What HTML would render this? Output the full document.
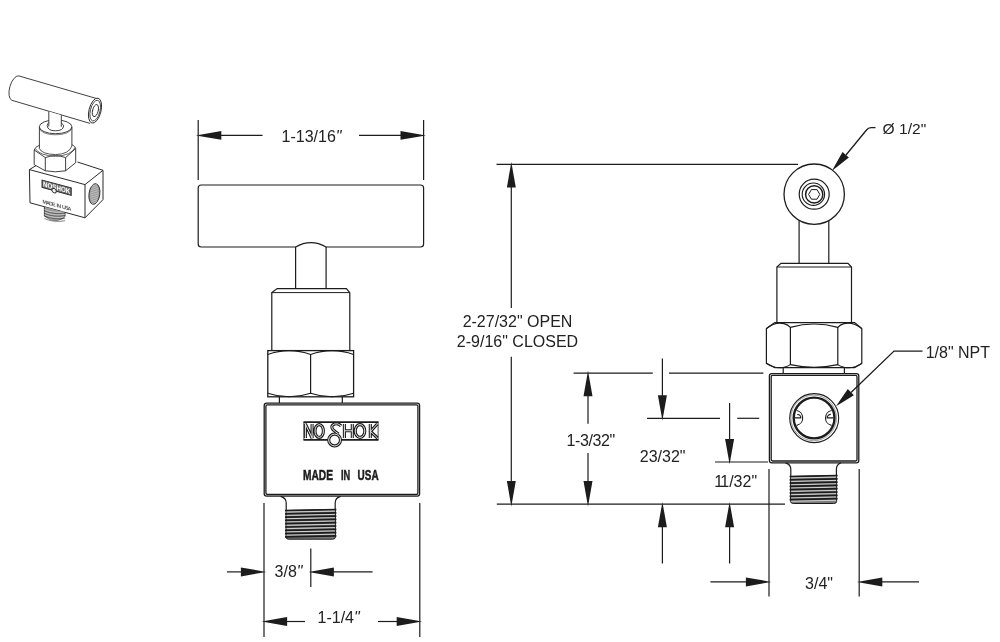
<!DOCTYPE html>
<html><head><meta charset="utf-8"><title>Needle valve dimensions</title>
<style>
html,body{margin:0;padding:0;background:#fff;}
body{width:1000px;height:642px;overflow:hidden;font-family:"Liberation Sans",sans-serif;}
svg{display:block;will-change:transform;}
svg text{font-family:"Liberation Sans",sans-serif;}
</style></head><body>
<svg width="1000" height="642" viewBox="0 0 1000 642">
<rect width="1000" height="642" fill="#fff"/>
<g id="front">
<line x1="198.2" y1="120" x2="198.2" y2="180" stroke="#1c1c1c" stroke-width="1.2" />
<line x1="423.6" y1="120" x2="423.6" y2="180" stroke="#1c1c1c" stroke-width="1.2" />
<line x1="220" y1="135.4" x2="262.5" y2="135.4" stroke="#1c1c1c" stroke-width="1.2" />
<polygon points="195.9,135.4 221.3,131.0 221.3,139.8" fill="#1c1c1c"/>
<line x1="359" y1="135.4" x2="402" y2="135.4" stroke="#1c1c1c" stroke-width="1.2" />
<polygon points="425.9,135.4 400.5,131.0 400.5,139.8" fill="#1c1c1c"/>
<text x="311.5" y="142" font-size="16" text-anchor="middle" fill="#222" >1-13/16<tspan font-style="italic">&quot;</tspan></text>
<path d="M201.2,185 H420.6 Q423.6,185 423.6,188 V244 Q423.6,247 420.6,247 H326.1 Q310.9,238.3 295.6,247 H201.2 Q198.2,247 198.2,244 V188 Q198.2,185 201.2,185 Z" stroke="#1c1c1c" stroke-width="1.2" fill="none" />
<line x1="295.6" y1="247" x2="295.6" y2="288.5" stroke="#1c1c1c" stroke-width="1.2" />
<line x1="326.1" y1="247" x2="326.1" y2="288.5" stroke="#1c1c1c" stroke-width="1.2" />
<path d="M271.8,350 V292.6 L277.2,288.6 H346.4 L349.8,292.6 V350" stroke="#1c1c1c" stroke-width="1.2" fill="none" />
<line x1="271.8" y1="292.6" x2="349.8" y2="292.6" stroke="#1c1c1c" stroke-width="1.0" />
<rect x="267.8" y="350.6" width="85.8" height="46.2" fill="none" stroke="#1c1c1c" stroke-width="1.3"/>
<path d="M310.6,354.2 V393.4" stroke="#1c1c1c" stroke-width="1.2" fill="none" />
<path d="M267.8,354.4 Q289.2,346.8 310.6,354.4 Q332.1,346.8 353.6,354.4" stroke="#1c1c1c" stroke-width="1.1" fill="none" />
<path d="M267.8,393.2 Q289.2,400.4 310.6,393.2 Q332.1,400.4 353.6,393.2" stroke="#1c1c1c" stroke-width="1.1" fill="none" />
<path d="M279.4,396.8 V403 M342.3,396.8 V403" stroke="#1c1c1c" stroke-width="1.2" fill="none" />
<rect x="264.2" y="403.2" width="155.4" height="93" rx="2.4" fill="none" stroke="#1c1c1c" stroke-width="1.3"/>
<rect x="265.9" y="404.9" width="152" height="89.6" rx="1.4" fill="none" stroke="#1c1c1c" stroke-width="1.3"/>
<g transform="translate(303.5,421.4) scale(1.0)" >
<path d="M0,0.7 H75 M0,18.5 H24.6 M37.6,18.5 H75" stroke="#1c1c1c" stroke-width="1.9" fill="none"/>
<path d="M0.4,0.7 V18.5 M74.6,0.7 V18.5" stroke="#1c1c1c" stroke-width="0.8" fill="none"/>
<path d="M1.9,16.6 V2.6 L8.6,16.6 V2.6 M19.9,9.6 a4.2,6.4 0 1 0 -8.4,0 a4.2,6.4 0 1 0 8.4,0 M37.6,4.4 Q34.6,1.4 30.8,2.6 Q26.6,4.6 29.4,8.2 Q32,10.4 35,12.6 M37,18.6 a5.9,5.9 0 1 0 -11.8,0 a5.9,5.9 0 1 0 11.8,0 M40.9,2.6 V16.6 M40.9,9.4 H48.8 M48.8,2.6 V16.6 M61.3,9.6 a4.8,6.4 0 1 0 -9.6,0 a4.8,6.4 0 1 0 9.6,0 M66.8,2.6 V16.6 M73.8,2.6 L67,10 L74,16.6" stroke="#1c1c1c" stroke-width="3.1" fill="none" stroke-linejoin="miter"/>
<path d="M1.9,16.6 V2.6 L8.6,16.6 V2.6 M19.9,9.6 a4.2,6.4 0 1 0 -8.4,0 a4.2,6.4 0 1 0 8.4,0 M37.6,4.4 Q34.6,1.4 30.8,2.6 Q26.6,4.6 29.4,8.2 Q32,10.4 35,12.6 M37,18.6 a5.9,5.9 0 1 0 -11.8,0 a5.9,5.9 0 1 0 11.8,0 M40.9,2.6 V16.6 M40.9,9.4 H48.8 M48.8,2.6 V16.6 M61.3,9.6 a4.8,6.4 0 1 0 -9.6,0 a4.8,6.4 0 1 0 9.6,0 M66.8,2.6 V16.6 M73.8,2.6 L67,10 L74,16.6" stroke="#fff" stroke-width="0.9" fill="none" stroke-linejoin="miter"/>
</g>
<g font-weight="bold" font-size="14.6" fill="#1c1c1c" stroke="#1c1c1c" stroke-width="0.5" >
<text x="303" y="479.5" textLength="30" lengthAdjust="spacingAndGlyphs">MADE</text>
<text x="341" y="479.5" textLength="9.2" lengthAdjust="spacingAndGlyphs">IN</text>
<text x="357.6" y="479.5" textLength="21" lengthAdjust="spacingAndGlyphs">USA</text>
</g>
<path d="M280.6,496.3 Q286.2,497.8 286.2,502.8 V510.5 M340.6,496.3 Q335.2,497.8 335.2,502.8 V510.5" stroke="#1c1c1c" stroke-width="1.2" fill="none" />
<path d="M286,510.5 L335.4,509.5 V537.2 Q335.4,539.2 332.4,539.2 H289 Q286,539.2 286,537.2 Z" fill="#7a7a7a" stroke="#1c1c1c" stroke-width="1"/>
<line x1="285" y1="510.5" x2="336.4" y2="509.5" stroke="#1c1c1c" stroke-width="1.7"/>
<line x1="286.5" y1="512.1" x2="334.9" y2="511.1" stroke="#e8e8e8" stroke-width="0.8"/>
<line x1="285" y1="513.8" x2="336.4" y2="512.8" stroke="#1c1c1c" stroke-width="1.7"/>
<line x1="286.5" y1="515.4" x2="334.9" y2="514.4" stroke="#e8e8e8" stroke-width="0.8"/>
<line x1="285" y1="517.1" x2="336.4" y2="516.1" stroke="#1c1c1c" stroke-width="1.7"/>
<line x1="286.5" y1="518.7" x2="334.9" y2="517.7" stroke="#e8e8e8" stroke-width="0.8"/>
<line x1="285" y1="520.4" x2="336.4" y2="519.4" stroke="#1c1c1c" stroke-width="1.7"/>
<line x1="286.5" y1="522.0" x2="334.9" y2="521.0" stroke="#e8e8e8" stroke-width="0.8"/>
<line x1="285" y1="523.7" x2="336.4" y2="522.7" stroke="#1c1c1c" stroke-width="1.7"/>
<line x1="286.5" y1="525.3" x2="334.9" y2="524.3" stroke="#e8e8e8" stroke-width="0.8"/>
<line x1="285" y1="527.0" x2="336.4" y2="526.0" stroke="#1c1c1c" stroke-width="1.7"/>
<line x1="286.5" y1="528.6" x2="334.9" y2="527.6" stroke="#e8e8e8" stroke-width="0.8"/>
<line x1="285" y1="530.3" x2="336.4" y2="529.3" stroke="#1c1c1c" stroke-width="1.7"/>
<line x1="286.5" y1="531.9" x2="334.9" y2="530.9" stroke="#e8e8e8" stroke-width="0.8"/>
<line x1="285" y1="533.6" x2="336.4" y2="532.6" stroke="#1c1c1c" stroke-width="1.7"/>
<line x1="286.5" y1="535.2" x2="334.9" y2="534.2" stroke="#e8e8e8" stroke-width="0.8"/>
<line x1="285" y1="536.9" x2="336.4" y2="535.9" stroke="#1c1c1c" stroke-width="1.7"/>
<line x1="264" y1="503" x2="264" y2="637" stroke="#1c1c1c" stroke-width="1.2" />
<line x1="419.8" y1="503" x2="419.8" y2="637" stroke="#1c1c1c" stroke-width="1.2" />
<line x1="227" y1="571.9" x2="242" y2="571.9" stroke="#1c1c1c" stroke-width="1.2" />
<polygon points="266.3,571.9 240.9,567.4 240.9,576.4" fill="#1c1c1c"/>
<line x1="310.8" y1="548.6" x2="310.8" y2="587" stroke="#1c1c1c" stroke-width="1.2" />
<polygon points="308.5,571.9 333.9,567.4 333.9,576.4" fill="#1c1c1c"/>
<line x1="333" y1="571.9" x2="372.6" y2="571.9" stroke="#1c1c1c" stroke-width="1.2" />
<text x="288.5" y="577.4" font-size="16" text-anchor="middle" fill="#222" >3/8<tspan font-style="italic">&quot;</tspan></text>
<polygon points="261.7,621.5 287.1,617.0 287.1,626.0" fill="#1c1c1c"/>
<line x1="286" y1="621.5" x2="305" y2="621.5" stroke="#1c1c1c" stroke-width="1.2" />
<polygon points="422.1,621.5 396.7,617.0 396.7,626.0" fill="#1c1c1c"/>
<line x1="378" y1="621.5" x2="398" y2="621.5" stroke="#1c1c1c" stroke-width="1.2" />
<text x="338.6" y="623.3" font-size="16" text-anchor="middle" fill="#222" >1-1/4<tspan font-style="italic">&quot;</tspan></text>
</g>
<g id="side">
<circle cx="814.2" cy="194.2" r="30.2" fill="none" stroke="#1c1c1c" stroke-width="1.3"/>
<circle cx="814.2" cy="194.2" r="15" fill="none" stroke="#1c1c1c" stroke-width="1.2"/>
<circle cx="813.4" cy="194.2" r="11.2" fill="none" stroke="#1c1c1c" stroke-width="1.1"/>
<circle cx="814.2" cy="194.4" r="8.6" fill="none" stroke="#1c1c1c" stroke-width="1.5"/>
<polygon points="819.8,194.4 817.0,199.2 811.4,199.2 808.6,194.4 811.4,189.6 817.0,189.6" fill="none" stroke="#1c1c1c" stroke-width="1"/>
<line x1="799.1" y1="220.6" x2="799.1" y2="263.3" stroke="#1c1c1c" stroke-width="1.2" />
<line x1="828.8" y1="220.6" x2="828.8" y2="263.3" stroke="#1c1c1c" stroke-width="1.2" />
<path d="M776.9,322.2 V267 L781,263.3 H848 L851.5,267 V322.2" stroke="#1c1c1c" stroke-width="1.2" fill="none" />
<line x1="776.9" y1="267" x2="851.5" y2="267" stroke="#1c1c1c" stroke-width="1.0" />
<path d="M766.4,328.6 L774.8,322.6 H854.6 L861.8,328.6 V363.4 L854.6,367.6 H774.8 L766.4,363.4 Z" stroke="#1c1c1c" stroke-width="1.2" fill="none" />
<path d="M790.4,327.2 V364.8 M837.8,327.2 V364.8" stroke="#1c1c1c" stroke-width="1.2" fill="none" />
<path d="M766.4,328.6 Q775,321.6 784,323.6 Q788,324.6 790.4,327.4 Q814,320.6 837.8,327.4 Q840,324.6 844,323.6 Q853,321.6 861.8,328.6" stroke="#1c1c1c" stroke-width="1.1" fill="none" />
<path d="M766.4,363.4 Q775,369.2 784,367.2 Q788,366.4 790.4,364.6 Q814,369.8 837.8,364.6 Q840,366.4 844,367.2 Q853,369.2 861.8,363.4" stroke="#1c1c1c" stroke-width="1.1" fill="none" />
<path d="M783.2,367.6 V373.4 M844.4,367.6 V373.4" stroke="#1c1c1c" stroke-width="1.2" fill="none" />
<rect x="769.4" y="373.6" width="89.4" height="89.2" rx="2.4" fill="none" stroke="#1c1c1c" stroke-width="1.3"/>
<rect x="771.2" y="375.4" width="85.8" height="85.6" rx="1.4" fill="none" stroke="#1c1c1c" stroke-width="1.3"/>
<circle cx="814.2" cy="418.1" r="24.5" fill="none" stroke="#1c1c1c" stroke-width="1.1"/>
<circle cx="813.7" cy="417.9" r="22.8" fill="none" stroke="#1c1c1c" stroke-width="0.6" opacity="0.7"/>
<circle cx="814.1" cy="418" r="20.4" fill="none" stroke="#1c1c1c" stroke-width="2.4"/>
<path d="M796.6,410.5 A7.6,7.6 0 0 1 796.6,425.4 M795,417.9 H800.8 A3,3 0 0 0 797.2,414.6" stroke="#1c1c1c" stroke-width="1.1" fill="none" />
<path d="M831.6,410.5 A7.6,7.6 0 0 0 831.6,425.4 M833.4,417.9 H827.2 A3.4,3.4 0 0 1 830.8,414.4" stroke="#1c1c1c" stroke-width="1.1" fill="none" />
<path d="M785.6,462.8 Q790.8000000000001,464.3 790.8000000000001,469.3 V476.5 M841.2,462.8 Q836.4,464.3 836.4,469.3 V476.5" stroke="#1c1c1c" stroke-width="1.2" fill="none" />
<path d="M790.6,476.5 L836.6,475.5 V501.5 Q836.6,503.5 833.6,503.5 H793.6 Q790.6,503.5 790.6,501.5 Z" fill="#7a7a7a" stroke="#1c1c1c" stroke-width="1"/>
<line x1="789.6" y1="476.5" x2="837.6" y2="475.5" stroke="#1c1c1c" stroke-width="1.7"/>
<line x1="791.1" y1="478.1" x2="836.1" y2="477.1" stroke="#e8e8e8" stroke-width="0.8"/>
<line x1="789.6" y1="479.8" x2="837.6" y2="478.8" stroke="#1c1c1c" stroke-width="1.7"/>
<line x1="791.1" y1="481.4" x2="836.1" y2="480.4" stroke="#e8e8e8" stroke-width="0.8"/>
<line x1="789.6" y1="483.1" x2="837.6" y2="482.1" stroke="#1c1c1c" stroke-width="1.7"/>
<line x1="791.1" y1="484.8" x2="836.1" y2="483.8" stroke="#e8e8e8" stroke-width="0.8"/>
<line x1="789.6" y1="486.4" x2="837.6" y2="485.4" stroke="#1c1c1c" stroke-width="1.7"/>
<line x1="791.1" y1="488.1" x2="836.1" y2="487.1" stroke="#e8e8e8" stroke-width="0.8"/>
<line x1="789.6" y1="489.7" x2="837.6" y2="488.7" stroke="#1c1c1c" stroke-width="1.7"/>
<line x1="791.1" y1="491.4" x2="836.1" y2="490.4" stroke="#e8e8e8" stroke-width="0.8"/>
<line x1="789.6" y1="493.0" x2="837.6" y2="492.0" stroke="#1c1c1c" stroke-width="1.7"/>
<line x1="791.1" y1="494.7" x2="836.1" y2="493.7" stroke="#e8e8e8" stroke-width="0.8"/>
<line x1="789.6" y1="496.3" x2="837.6" y2="495.3" stroke="#1c1c1c" stroke-width="1.7"/>
<line x1="791.1" y1="498.0" x2="836.1" y2="497.0" stroke="#e8e8e8" stroke-width="0.8"/>
<line x1="789.6" y1="499.6" x2="837.6" y2="498.6" stroke="#1c1c1c" stroke-width="1.7"/>
<line x1="791.1" y1="501.3" x2="836.1" y2="500.3" stroke="#e8e8e8" stroke-width="0.8"/>
<path d="M875.5,127.6 H871 Q868.3,127.6 866.5,130 L846,155" stroke="#1c1c1c" stroke-width="1.3" fill="none" />
<polygon points="831.8,171.1 848.9,157.4 842.5,152.0" fill="#1c1c1c"/>
<text transform="translate(882.6,133.8) scale(1.12,1)" font-size="13.9" fill="#222">&#216; 1/2&quot;</text>
<path d="M922.5,351.1 H894 L851,392.5" stroke="#1c1c1c" stroke-width="1.3" fill="none" />
<polygon points="836.0,406.2 853.9,395.3 847.8,388.9" fill="#1c1c1c"/>
<text x="925.7" y="357.6" font-size="16" text-anchor="start" fill="#222" >1/8&quot; NPT</text>
<line x1="496.5" y1="164.3" x2="798" y2="164.3" stroke="#1c1c1c" stroke-width="1.2" />
<line x1="496.8" y1="504.2" x2="785" y2="504.2" stroke="#1c1c1c" stroke-width="1.2" />
<line x1="511.3" y1="185" x2="511.3" y2="308" stroke="#1c1c1c" stroke-width="1.2" />
<line x1="511.3" y1="356.7" x2="511.3" y2="482" stroke="#1c1c1c" stroke-width="1.2" />
<polygon points="511.3,162.0 506.9,187.4 515.8,187.4" fill="#1c1c1c"/>
<polygon points="511.3,506.5 506.9,481.1 515.8,481.1" fill="#1c1c1c"/>
<text x="517.5" y="327" font-size="16" text-anchor="middle" fill="#222" >2-27/32&quot; OPEN</text>
<text x="517.5" y="346.8" font-size="16" text-anchor="middle" fill="#222" >2-9/16&quot; CLOSED</text>
<line x1="573.6" y1="373.1" x2="652.8" y2="373.1" stroke="#1c1c1c" stroke-width="1.2" />
<line x1="669" y1="373.1" x2="763.4" y2="373.1" stroke="#1c1c1c" stroke-width="1.2" />
<line x1="588" y1="394" x2="588" y2="423.7" stroke="#1c1c1c" stroke-width="1.2" />
<line x1="588" y1="453" x2="588" y2="482" stroke="#1c1c1c" stroke-width="1.2" />
<polygon points="588.0,370.8 583.5,396.2 592.5,396.2" fill="#1c1c1c"/>
<polygon points="588.0,506.5 583.5,481.1 592.5,481.1" fill="#1c1c1c"/>
<text x="590.8" y="445.7" font-size="16" text-anchor="middle" fill="#222" textLength="48.7">1-3/32&quot;</text>
<line x1="662.4" y1="358.4" x2="662.4" y2="396" stroke="#1c1c1c" stroke-width="1.2" />
<polygon points="662.4,420.6 657.9,395.2 666.9,395.2" fill="#1c1c1c"/>
<line x1="647" y1="418.3" x2="720" y2="418.3" stroke="#1c1c1c" stroke-width="1.2" />
<line x1="737.2" y1="418.3" x2="759.2" y2="418.3" stroke="#1c1c1c" stroke-width="1.2" />
<polygon points="662.4,501.9 657.9,527.3 666.9,527.3" fill="#1c1c1c"/>
<line x1="662.4" y1="526" x2="662.4" y2="563.4" stroke="#1c1c1c" stroke-width="1.2" />
<text x="662.6" y="462.3" font-size="16" text-anchor="middle" fill="#222" >23/32&quot;</text>
<line x1="729.6" y1="403" x2="729.6" y2="440" stroke="#1c1c1c" stroke-width="1.2" />
<polygon points="729.6,464.3 725.1,438.9 734.1,438.9" fill="#1c1c1c"/>
<line x1="715" y1="462" x2="768" y2="462" stroke="#1c1c1c" stroke-width="1.2" />
<polygon points="729.6,501.9 725.1,527.3 734.1,527.3" fill="#1c1c1c"/>
<line x1="729.6" y1="526" x2="729.6" y2="563.4" stroke="#1c1c1c" stroke-width="1.2" />
<text x="735.6" y="487.3" font-size="16" text-anchor="middle" fill="#222" >1<tspan dx="-1.6">1</tspan>/32&quot;</text>
<line x1="769" y1="469" x2="769" y2="596.6" stroke="#1c1c1c" stroke-width="1.2" />
<line x1="859.2" y1="469" x2="859.2" y2="596.6" stroke="#1c1c1c" stroke-width="1.2" />
<line x1="710.4" y1="581.9" x2="747" y2="581.9" stroke="#1c1c1c" stroke-width="1.2" />
<polygon points="771.3,581.9 745.9,577.4 745.9,586.4" fill="#1c1c1c"/>
<polygon points="856.9,581.9 882.3,577.4 882.3,586.4" fill="#1c1c1c"/>
<line x1="881" y1="581.9" x2="919" y2="581.9" stroke="#1c1c1c" stroke-width="1.2" />
<text x="819" y="588.5" font-size="16" text-anchor="middle" fill="#222" >3/4&quot;</text>
</g>
<g id="iso">
<path d="M18.8,75.9 L98.8,99.2 M11.9,100.3 L90,123.4 M18.8,75.9 A6,12.7 15.8 0 0 11.9,100.3" stroke="#2a2a2a" stroke-width="0.9" fill="none" />
<ellipse cx="95" cy="110.6" rx="6" ry="12.8" transform="rotate(14 95 110.6)" fill="#fff" stroke="#2a2a2a" stroke-width="0.9"/>
<ellipse cx="95.2" cy="110.6" rx="4.8" ry="10.6" transform="rotate(14 95.2 110.6)" fill="none" stroke="#2a2a2a" stroke-width="0.8"/>
<ellipse cx="95.4" cy="110.6" rx="2.8" ry="6.2" transform="rotate(14 95.4 110.6)" fill="none" stroke="#2a2a2a" stroke-width="0.9"/>
<ellipse cx="55.6" cy="126.8" rx="16.3" ry="6.9" fill="none" stroke="#2a2a2a" stroke-width="0.9"/>
<path d="M48.8,111.5 V127.5 H61.3 V115.2 Z" fill="#fff" stroke="none"/>
<path d="M48.8,111.5 V126.5 M61.3,115.2 V126.8" stroke="#2a2a2a" stroke-width="0.9" fill="none" />
<path d="M47.2,125.6 Q47.6,130.8 55.4,130.8 Q63.2,130.8 63.6,126" stroke="#2a2a2a" stroke-width="0.9" fill="none" />
<path d="M47.2,125.6 Q47.4,123.4 48.8,122.6 M63.6,126 Q63.4,124.2 61.3,123.2" stroke="#2a2a2a" stroke-width="0.8" fill="none" />
<path d="M39.4,127 V148.6 M71.9,127 V146" stroke="#2a2a2a" stroke-width="0.9" fill="none" />
<path d="M39.6,128.6 Q42,134.6 55.6,134.8 Q69,134.6 71.7,128.6" stroke="#2a2a2a" stroke-width="0.6" fill="none" />
<path d="M34.2,150 V164.7 M45.3,157.6 V170.8 M65.6,157.6 V170.8 M75.7,148.5 V162.7" stroke="#2a2a2a" stroke-width="0.9" fill="none" />
<path d="M34.2,150 Q35,147 39.4,145.2 M75.7,148.5 Q75,146 71.9,144.6" stroke="#2a2a2a" stroke-width="0.8" fill="none" />
<path d="M34.2,150 L45.3,157.6 Q55.5,153.8 65.6,157.6 L75.7,148.5" stroke="#2a2a2a" stroke-width="0.9" fill="none" />
<path d="M35.2,148.6 Q40,155.8 55.5,156.2 Q71,155.8 75.2,147.4" stroke="#2a2a2a" stroke-width="0.7" fill="none" />
<path d="M39.4,148.6 Q42,154.2 55.6,154.6 Q69,154.2 71.9,146" stroke="#2a2a2a" stroke-width="0.8" fill="none" />
<path d="M34.2,164.7 L45.3,170.8 Q55.5,172.8 65.6,170.8 L75.7,162.7" stroke="#2a2a2a" stroke-width="0.9" fill="none" />
<path d="M29.4,169.6 L85,184.6 V217.8 L30,202.8 Z" stroke="#2a2a2a" stroke-width="1.0" fill="none" />
<path d="M29.4,169.6 L36,165.6 M77.5,162 L103,170.3 L85,184.6 M103,170.3 V199.6 L85,217.8" stroke="#2a2a2a" stroke-width="1.0" fill="none" />
<ellipse cx="94.4" cy="194" rx="5.4" ry="10.4" transform="rotate(8 94.4 194)" fill="#9a9a9a" stroke="#2a2a2a" stroke-width="0.9"/>
<path d="M91.6,186.4 L97.2,184.0" stroke="#e6e6e6" stroke-width="0.5" fill="none" />
<path d="M91.2,188.6 L97.5,186.2" stroke="#e6e6e6" stroke-width="0.5" fill="none" />
<path d="M90.9,190.8 L97.9,188.4" stroke="#e6e6e6" stroke-width="0.5" fill="none" />
<path d="M90.5,193.0 L98.2,190.6" stroke="#e6e6e6" stroke-width="0.5" fill="none" />
<path d="M90.2,195.2 L98.6,192.8" stroke="#e6e6e6" stroke-width="0.5" fill="none" />
<path d="M90.5,197.4 L98.2,195.0" stroke="#e6e6e6" stroke-width="0.5" fill="none" />
<path d="M90.9,199.6 L97.9,197.2" stroke="#e6e6e6" stroke-width="0.5" fill="none" />
<path d="M91.2,201.8 L97.5,199.4" stroke="#e6e6e6" stroke-width="0.5" fill="none" />
<path d="M91.6,204.0 L97.2,201.6" stroke="#e6e6e6" stroke-width="0.5" fill="none" />
<g transform="matrix(1,0.27,0,1,42,180) scale(0.39)">
<rect x="0" y="0" width="75" height="19" fill="#6e6e6e" stroke="#2a2a2a" stroke-width="2.4"/>
<text x="37.5" y="16" font-size="19" font-weight="bold" text-anchor="middle" fill="#fff" textLength="70" lengthAdjust="spacingAndGlyphs">NOSHOK</text>
<circle cx="31" cy="19" r="5.5" fill="#fff" stroke="#2a2a2a" stroke-width="2.4"/>
</g>
<g transform="matrix(1,0.27,0,1,42.5,203.2)">
<text x="0" y="0" font-size="5.4" font-weight="bold" fill="#555" word-spacing="1.2" textLength="29" lengthAdjust="spacing">MADE IN USA</text>
</g>
<path d="M44.4,206.8 V216 Q50,221 57,220.4 Q63,219.6 65,216.5 V212.4" stroke="#2a2a2a" stroke-width="0.9" fill="#9a9a9a" />
<path d="M44.4,209.5 Q54,213.7 65,211.7" stroke="#e0e0e0" stroke-width="0.6" fill="none" />
<path d="M44.4,210.8 Q54,215.0 65,213.0" stroke="#3a3a3a" stroke-width="0.6" fill="none" />
<path d="M44.4,212.1 Q54,216.3 65,214.3" stroke="#e0e0e0" stroke-width="0.6" fill="none" />
<path d="M44.4,213.4 Q54,217.6 65,215.6" stroke="#3a3a3a" stroke-width="0.6" fill="none" />
<path d="M44.4,214.7 Q54,218.9 65,216.9" stroke="#e0e0e0" stroke-width="0.6" fill="none" />
<path d="M44.4,216.0 Q54,220.2 65,218.2" stroke="#3a3a3a" stroke-width="0.6" fill="none" />
<path d="M44.4,217.3 Q54,221.5 65,219.5" stroke="#e0e0e0" stroke-width="0.6" fill="none" />
<path d="M44.4,218.6 Q54,222.8 65,220.8" stroke="#3a3a3a" stroke-width="0.6" fill="none" />
</g>
</svg>
</body></html>
